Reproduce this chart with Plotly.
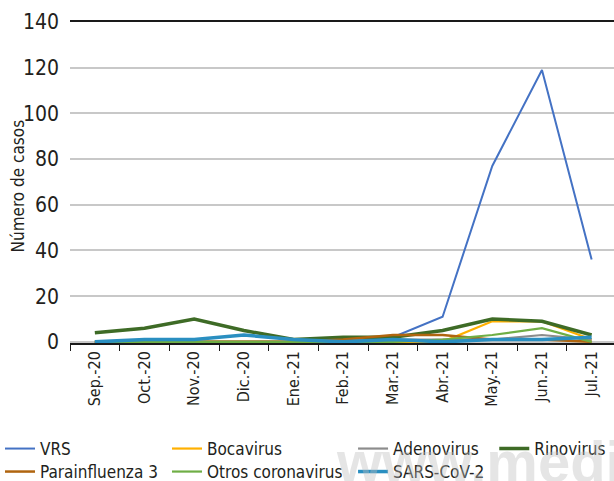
import plotly.graph_objects as go

# Monthly case counts by respiratory virus
months = ["Sep.-20", "Oct.-20", "Nov.-20", "Dic.-20", "Ene.-21", "Feb.-21",
          "Mar.-21", "Abr.-21", "May.-21", "Jun.-21", "Jul.-21"]

vrs = [0, 0, 0, 0, 0, 0, 2, 11, 77, 119, 36]
bocavirus = [0, 0, 0, 0, 0, 0, 0, 0, 9, 9, 1]
adenovirus = [0, 0, 0, 0, 0, 1, 1, 1, 1, 3, 1]
rinovirus = [4, 6, 10, 5, 1, 2, 2, 5, 10, 9, 3]
parainfluenza3 = [0, 0, 0, 0, 0, 1, 3, 3, 1, 1, 0]
otros_coronavirus = [0, 0, 0, 0, 0, 0, 0, 1, 3, 6, 0]
sars_cov_2 = [0, 1, 1, 3, 1, 0, 1, 0, 1, 1, 2]

y_ticks = [0, 20, 40, 60, 80, 100, 120, 140]

FONT = "DejaVu Sans Condensed, Liberation Sans Narrow, Liberation Sans, Arial, sans-serif"
TEXT = "#231f20"

# name, values, colour, width, legend column, legend row
col_x = [0.0, 0.272, 0.575, 0.805]
row_y = [1 - 449 / 481, 1 - 472 / 481]
series = [
    ("VRS", vrs, "#4472c4", 2.0, 0, 0),
    ("Bocavirus", bocavirus, "#ffb000", 2.2, 1, 0),
    ("Adenovirus", adenovirus, "#8c8c8c", 2.2, 2, 0),
    ("Rinovirus", rinovirus, "#3e6b26", 3.5, 3, 0),
    ("Parainfluenza 3", parainfluenza3, "#b0650f", 2.5, 0, 1),
    ("Otros coronavirus", otros_coronavirus, "#6fae45", 2.2, 1, 1),
    ("SARS-CoV-2", sars_cov_2, "#2a8fc1", 3.5, 2, 1),
]

fig = go.Figure()
legends = {}
for i, (name, values, color, width, col, row) in enumerate(series):
    key = "legend" if i == 0 else f"legend{i + 1}"
    fig.add_trace(go.Scatter(
        x=months, y=values, name=name, mode="lines",
        line=dict(color=color, width=width),
        legend=key, showlegend=True,
    ))
    legends[key] = dict(
        orientation="v", xanchor="left", yanchor="middle",
        xref="container", yref="container",
        x=col_x[col], y=row_y[row],
        font=dict(family=FONT, size=17, color=TEXT),
        bgcolor="rgba(0,0,0,0)", itemwidth=30,
    )

fig.update_layout(
    width=614, height=481,
    showlegend=True,
    margin=dict(l=70, r=0, t=22, b=138, autoexpand=False),
    paper_bgcolor="white", plot_bgcolor="white",
    font=dict(family=FONT, color=TEXT),
    annotations=[
        dict(
            text="www.medigraphic.org.mx", xref="paper", yref="paper",
            x=0.485, y=-0.37, xanchor="left", yanchor="middle", showarrow=False,
            font=dict(family="Liberation Sans, Arial, sans-serif", size=58,
                      color="rgba(190,190,190,0.4)", weight="bold"),
        ),
        dict(
            text="Número de casos", xref="paper", yref="paper",
            x=-0.096, y=0.49, xanchor="center", yanchor="middle",
            textangle=-90, showarrow=False,
            font=dict(family=FONT, size=17, color=TEXT),
        ),
    ],
    **legends,
)

fig.update_xaxes(
    type="category", categoryorder="array", categoryarray=months,
    range=[-0.5, 10.45], automargin=False,
    showgrid=False, showline=True, linecolor="#1a1a1a", linewidth=1.5,
    mirror=True,
    ticks="outside", tickson="boundaries", ticklen=6, tickcolor="#1a1a1a",
    tickwidth=1.2,
    tickangle=-90, tickfont=dict(family=FONT, size=16, color=TEXT),
)

fig.update_yaxes(
    range=[-0.5, 140], tickvals=y_ticks, automargin=False,
    showgrid=True, gridcolor="#c8c8c8", gridwidth=1.5,
    zeroline=False, showline=False, ticks="",
    ticklabelstandoff=10,
    tickfont=dict(family=FONT, size=21, color=TEXT),
)

fig.write_html("out.html")
